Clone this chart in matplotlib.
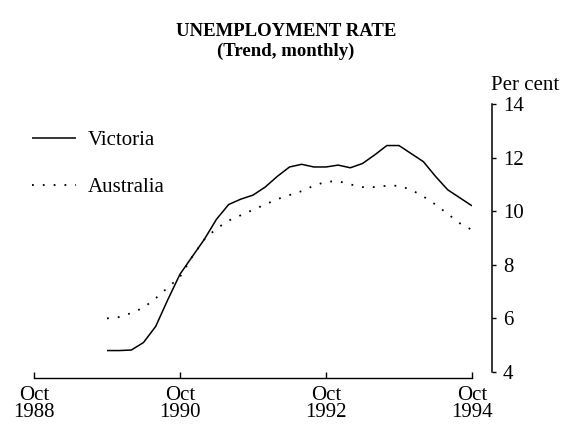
import matplotlib
matplotlib.use("Agg")
import matplotlib.pyplot as plt
import numpy as np

monate = np.arange(12, 73, 2)
victoria = [4.8, 4.8, 4.82, 5.1, 5.7, 6.7, 7.65, 8.3, 8.95, 9.7, 10.25,
            10.45, 10.6, 10.9, 11.3, 11.65, 11.75, 11.65, 11.65, 11.72, 11.62,
            11.78, 12.1, 12.45, 12.45, 12.15, 11.85, 11.3, 10.8, 10.5, 10.2]
australien = [6.0, 6.05, 6.2, 6.4, 6.75, 7.15, 7.55, 8.3, 8.95, 9.35, 9.65,
              9.85, 10.05, 10.25, 10.45, 10.6, 10.75, 10.95, 11.1, 11.12, 11.0,
              10.9, 10.9, 10.95, 10.95, 10.8, 10.55, 10.25, 9.9, 9.55, 9.3]

x_ticks = [0, 24, 48, 72]
x_labels = ["Oct\n1988", "Oct\n1990", "Oct\n1992", "Oct\n1994"]
y_ticks = [4, 6, 8, 10, 12, 14]

plt.rcParams["font.family"] = ["Liberation Serif", "DejaVu Serif"]

fig = plt.figure(figsize=(5.69, 4.37), dpi=100)
ax = fig.add_axes([34 / 569, 1 - 372 / 437, (472 - 34) / 569, (372 - 104) / 437])

ax.plot(monate, victoria, color="black", lw=1.1, solid_capstyle="butt", label="Victoria")
ax.plot(monate, australien, color="black", lw=1.3, linestyle=(0, (1, 5)), label="Australia")

ax.set_xlim(0, 72)
ax.set_ylim(4, 14)

# Achsen wie im Original: rechts, abgesetzt
ax.spines["top"].set_visible(False)
ax.spines["left"].set_visible(False)
ax.spines["bottom"].set_position(("outward", 4))
ax.spines["right"].set_position(("outward", 14.4))
ax.spines["bottom"].set_linewidth(1.0)
ax.spines["right"].set_linewidth(1.1)

ax.yaxis.tick_right()
ax.set_yticks(y_ticks)
ax.tick_params(axis="y", direction="out", length=3, width=1.0, labelsize=15, pad=5)
ax.set_xticks(x_ticks)
ax.set_xticklabels(x_labels, linespacing=0.9)
ax.tick_params(axis="x", direction="in", length=4, width=1.0, labelsize=15, pad=6)

fig.text(491 / 569, 1 - 85 / 437, "Per cent", fontsize=15, ha="left", va="center")

fig.text(286 / 569, 1 - 32 / 437, "UNEMPLOYMENT RATE", fontsize=13.5,
         fontweight="bold", ha="center", va="center")
fig.text(286 / 569, 1 - 51 / 437, "(Trend, monthly)", fontsize=13.5,
         fontweight="bold", ha="center", va="center")

leg = ax.legend(loc="center left", bbox_to_anchor=(24 / 569, 1 - 164 / 437),
                bbox_transform=fig.transFigure, frameon=False, fontsize=15,
                handlelength=2.1, handletextpad=0.55, labelspacing=1.3,
                borderaxespad=0, borderpad=0.4)

fig.savefig("out.png", dpi=100)
